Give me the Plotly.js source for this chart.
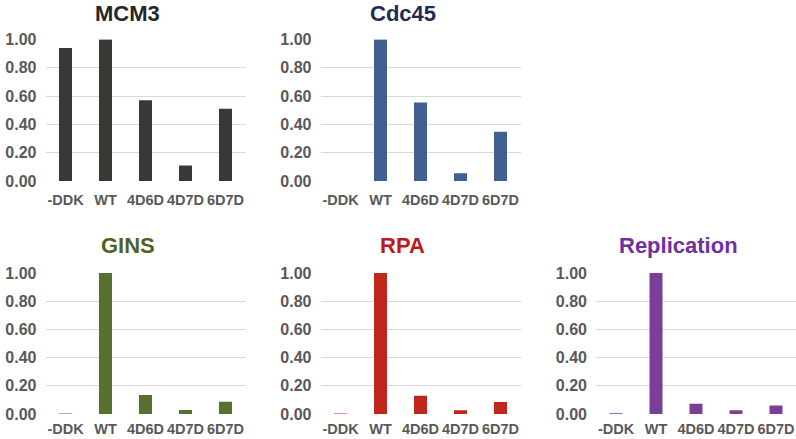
<!DOCTYPE html>
<html>
<head>
<meta charset="utf-8">
<script src="https://cdn.plot.ly/plotly-3.0.1.min.js"></script>
<style>html,body{margin:0;padding:0;background:#fff;}#chart{width:796px;height:439px;}</style>
</head>
<body>
<div id="chart"></div>
<script>
var categories = ['-DDK', 'WT', '4D6D', '4D7D', '6D7D'];
var mcm3 = [0.94, 1.00, 0.57, 0.11, 0.51];
var cdc45 = [0, 1.00, 0.555, 0.054, 0.348];
var gins = [0.003, 1.00, 0.134, 0.028, 0.087];
var rpa = [0.003, 1.00, 0.13, 0.026, 0.085];
var replication = [0.005, 1.00, 0.073, 0.026, 0.061];
var yTicks = [0, 0.2, 0.4, 0.6, 0.8, 1.0];

var panels = [
  {name: 'MCM3', values: mcm3, bar: '#383834', title: '#262626'},
  {name: 'Cdc45', values: cdc45, bar: '#3f6090', title: '#1f2a55'},
  {name: 'GINS', values: gins, bar: '#56712f', title: '#4f6228'},
  {name: 'RPA', values: rpa, bar: '#c0261b', title: '#c0191b'},
  {name: 'Replication', values: replication, bar: '#7a3f98', title: '#7030a0'}
];

var W = 796, H = 439;
// pixel boxes [x0, x1, yTop, yBottom, titleTop, xLabelStandoff]
var boxes = [
  [45.5, 245.5, 39.3, 181, 0, 8],
  [320.5, 520.5, 39.3, 181, 0, 8],
  [45.5, 245.5, 272.7, 414, 231.5, 4],
  [320.5, 520.5, 272.7, 414, 231.5, 4],
  [596, 796, 272.7, 414, 231.5, 4]
];

var FONT = 'Liberation Sans, Arial, sans-serif';
var data = [];
var layout = {
  width: W, height: H,
  margin: {l: 0, r: 0, t: 0, b: 0},
  paper_bgcolor: '#fff', plot_bgcolor: '#fff',
  showlegend: false,
  bargap: 0.675,
  font: {family: FONT},
  annotations: []
};

panels.forEach(function (p, i) {
  var n = i + 1;
  var s = (n === 1 ? '' : String(n));
  var b = boxes[i];
  data.push({
    type: 'bar',
    x: categories,
    y: p.values,
    xaxis: 'x' + s,
    yaxis: 'y' + s,
    marker: {color: p.bar},
    hoverinfo: 'none'
  });
  layout['xaxis' + s] = {
    domain: [b[0] / W, b[1] / W],
    anchor: 'y' + s,
    type: 'category',
    tickangle: 0,
    showgrid: false, zeroline: false, showline: false,
    ticks: '',
    tickfont: {size: 14.5, color: '#595959', family: FONT, weight: 'bold'},
    ticklabelstandoff: b[5],
    fixedrange: true
  };
  layout['yaxis' + s] = {
    domain: [1 - b[3] / H, 1 - b[2] / H],
    anchor: 'x' + s,
    range: [0, 1.0015],
    tickvals: yTicks,
    tickformat: '.2f',
    showgrid: true, gridcolor: '#d9d9d9', gridwidth: 1,
    zeroline: false, showline: false,
    ticks: '',
    tickfont: {size: 16, color: '#595959', family: FONT, weight: 'bold'},
    ticklabelstandoff: 8,
    fixedrange: true
  };
  layout.annotations.push({
    text: p.name,
    xref: 'paper', yref: 'paper',
    x: ((b[0] + b[1]) / 2 - 18) / W,
    y: 1 - b[4] / H,
    xanchor: 'center', yanchor: 'top',
    borderpad: 0,
    showarrow: false,
    font: {size: 22, color: p.title, family: FONT, weight: 'bold'}
  });
});

Plotly.newPlot('chart', data, layout, {displayModeBar: false, staticPlot: true});
</script>
</body>
</html>
